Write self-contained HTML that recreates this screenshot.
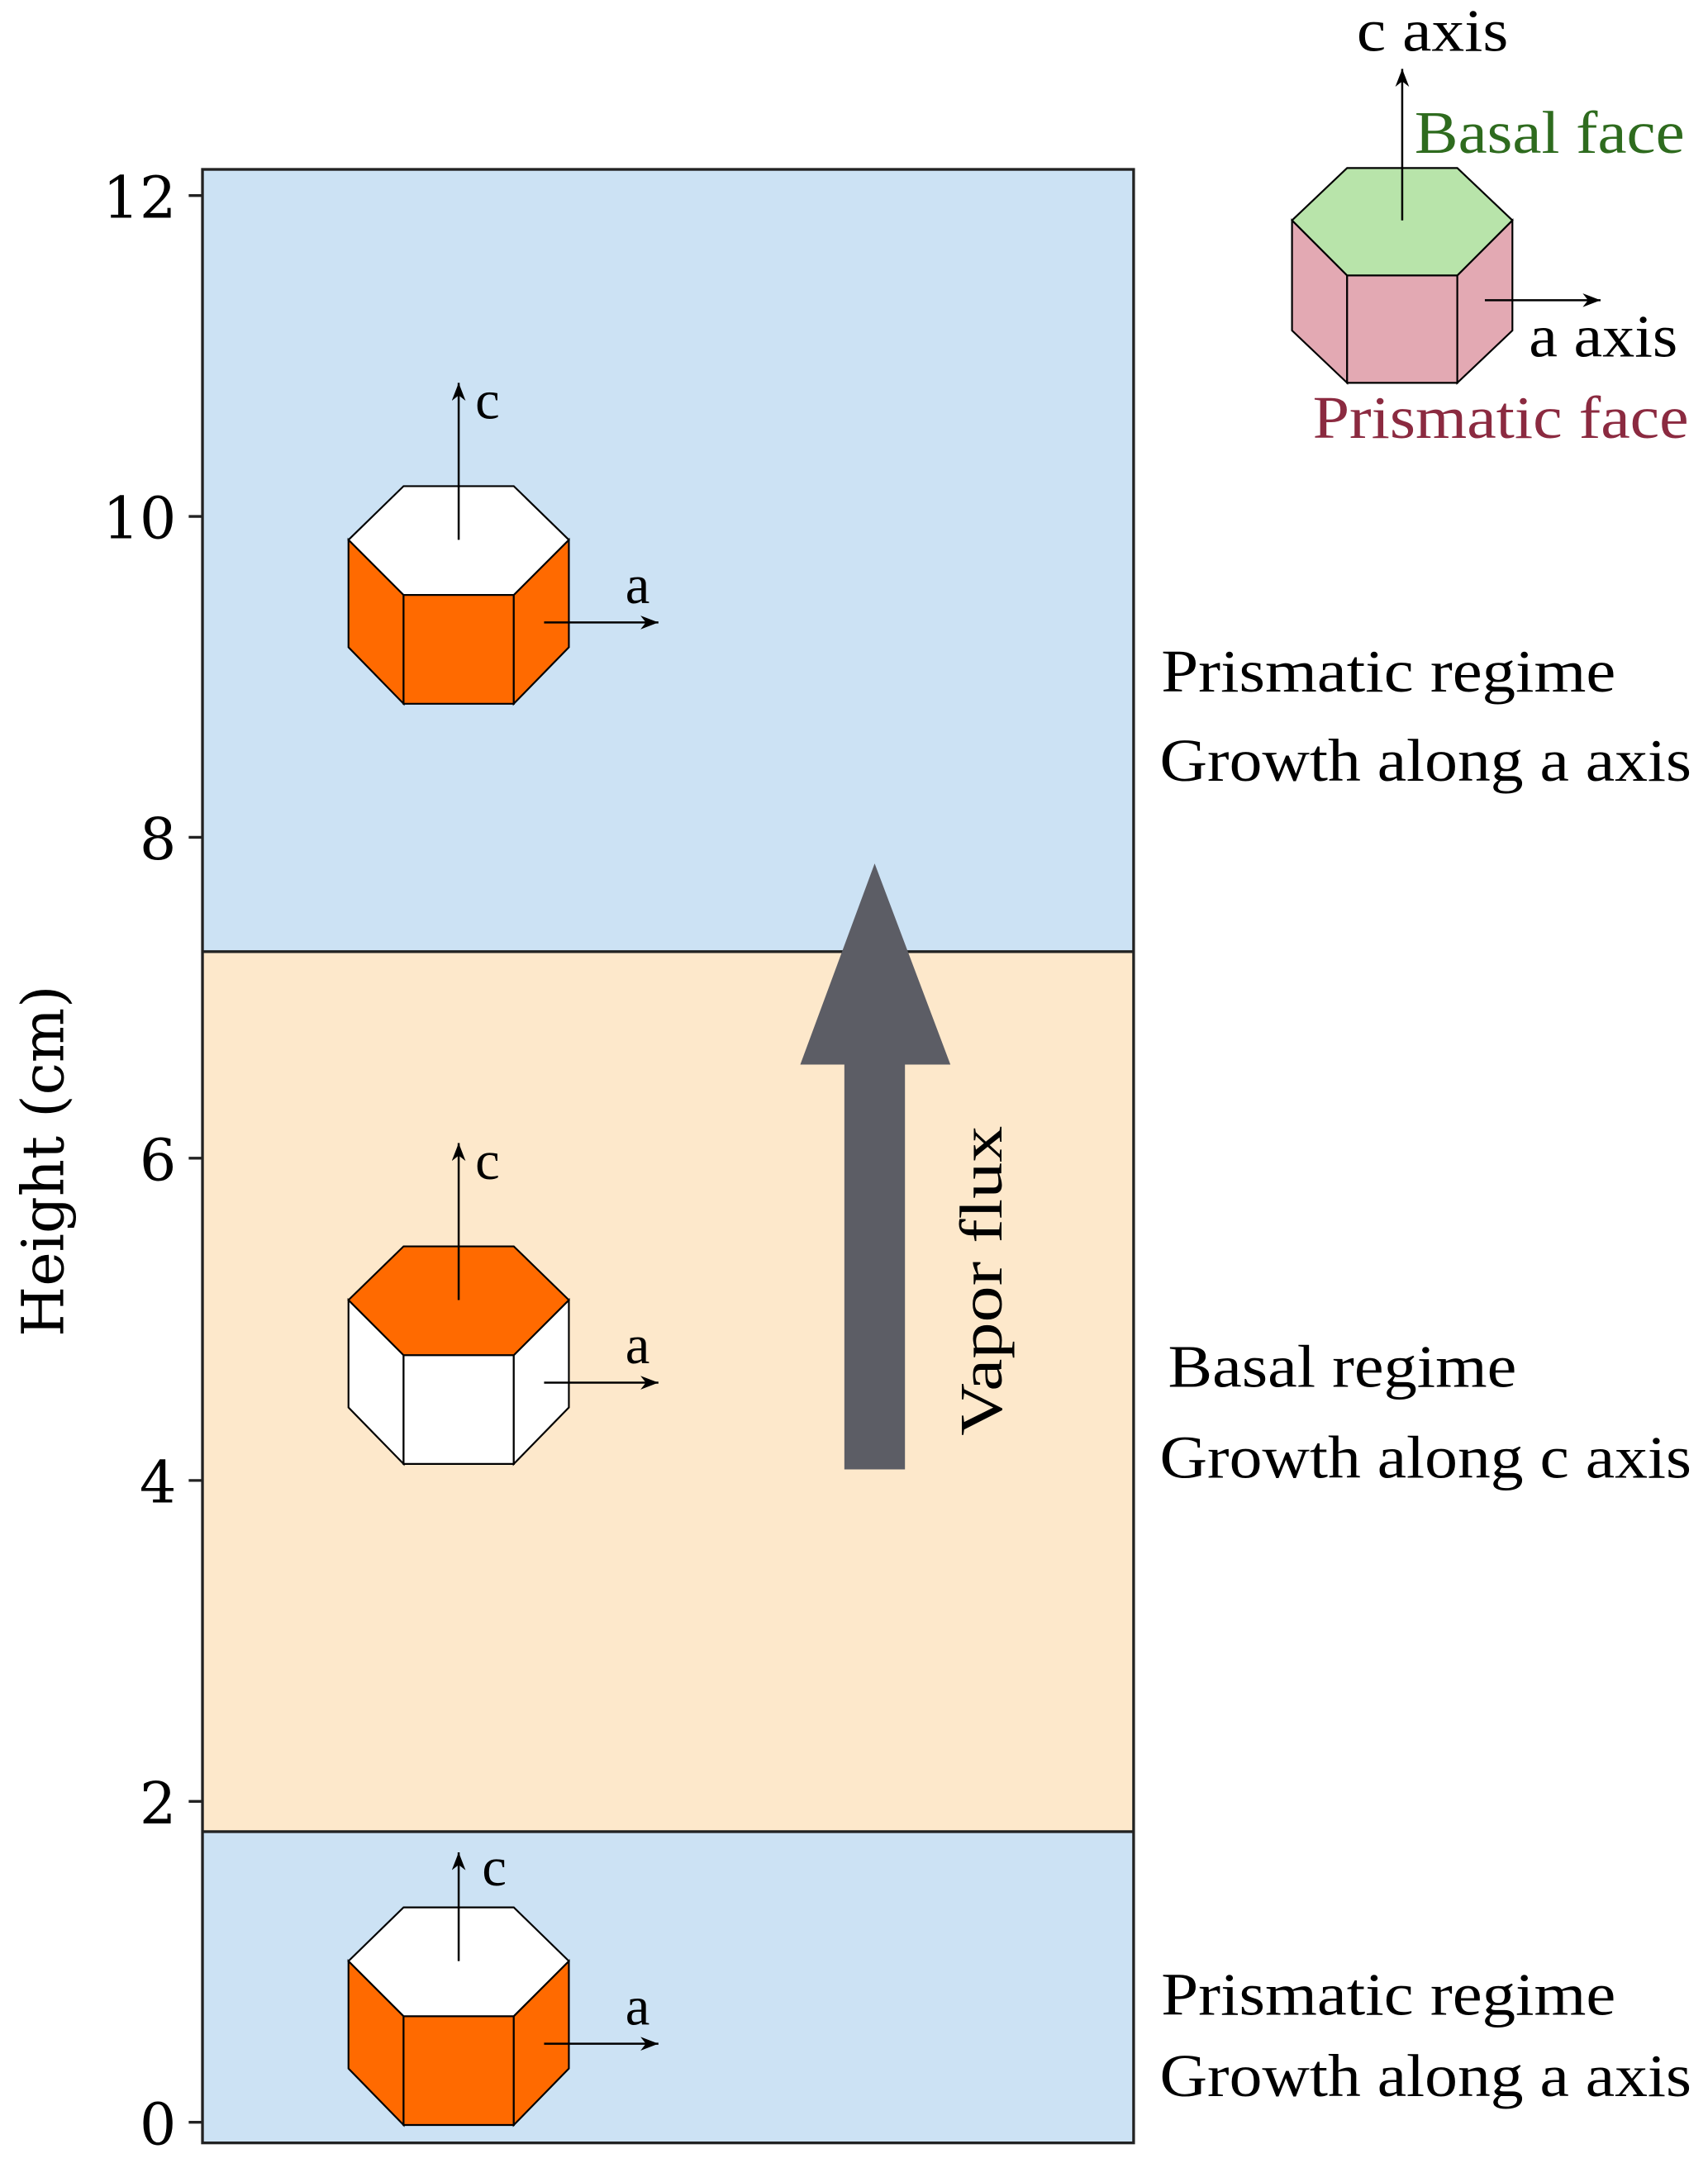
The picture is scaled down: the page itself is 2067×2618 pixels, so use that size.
<!DOCTYPE html>
<html><head><meta charset="utf-8"><style>html,body{margin:0;padding:0;background:#fff}svg{display:block}</style></head>
<body>
<svg width="2067" height="2618" viewBox="0 0 1240 1570.6" preserveAspectRatio="none" xmlns="http://www.w3.org/2000/svg">
<defs>
<marker id="ah" viewBox="0 0 10 10" refX="10" refY="5" markerWidth="13" markerHeight="10" markerUnits="userSpaceOnUse" orient="auto" preserveAspectRatio="none"><path d="M0,0 L10,5 L0,10 L3,5 z" fill="#000"/></marker>
</defs>
<rect x="147" y="123" width="676" height="568" fill="#cce2f4"/>
<rect x="147" y="691" width="676" height="639" fill="#fde8cb"/>
<rect x="147" y="1330" width="676" height="226" fill="#cce2f4"/>
<line x1="147" y1="691" x2="823" y2="691" stroke="#222" stroke-width="2"/>
<line x1="147" y1="1330" x2="823" y2="1330" stroke="#222" stroke-width="2"/>
<rect x="147" y="123" width="676" height="1433" fill="none" stroke="#222" stroke-width="2"/>
<g stroke="#222" stroke-width="2">
<line x1="137" y1="142" x2="147" y2="142"/><line x1="137" y1="375" x2="147" y2="375"/>
<line x1="137" y1="608" x2="147" y2="608"/><line x1="137" y1="841" x2="147" y2="841"/>
<line x1="137" y1="1075" x2="147" y2="1075"/><line x1="137" y1="1308" x2="147" y2="1308"/>
<line x1="137" y1="1541" x2="147" y2="1541"/>
</g>
<g font-family="DejaVu Serif, serif" font-size="42" text-anchor="end" fill="#000">
<text x="128" y="158">12</text><text x="128" y="391">10</text><text x="128" y="624">8</text>
<text x="128" y="857">6</text><text x="128" y="1091">4</text><text x="128" y="1324">2</text><text x="128" y="1557">0</text>
</g>
<text transform="translate(46,843) rotate(-90)" font-family="DejaVu Serif, serif" font-size="42" text-anchor="middle">Height (cm)</text>

<g stroke="#000" stroke-width="1.3">
<polygon points="253,392 293,432 293,511 253,470" fill="#ff6a00"/>
<polygon points="293,432 373,432 373,511 293,511" fill="#ff6a00"/>
<polygon points="373,432 413,392 413,470 373,511" fill="#ff6a00"/>
<polygon points="293,353 373,353 413,392 373,432 293,432 253,392" fill="#fff"/>
</g>
<line x1="333" y1="392" x2="333" y2="278" stroke="#000" stroke-width="1.5" marker-end="url(#ah)"/>
<line x1="395" y1="452" x2="478" y2="452" stroke="#000" stroke-width="1.5" marker-end="url(#ah)"/>
<g font-family="Liberation Serif, serif" font-size="40"><text x="345" y="304">c</text><text x="454" y="438">a</text></g>

<g transform="translate(0,552)">
<g stroke="#000" stroke-width="1.3">
<polygon points="253,392 293,432 293,511 253,470" fill="#fff"/>
<polygon points="293,432 373,432 373,511 293,511" fill="#fff"/>
<polygon points="373,432 413,392 413,470 373,511" fill="#fff"/>
<polygon points="293,353 373,353 413,392 373,432 293,432 253,392" fill="#ff6a00"/>
</g>
<line x1="333" y1="392" x2="333" y2="278" stroke="#000" stroke-width="1.5" marker-end="url(#ah)"/>
<line x1="395" y1="452" x2="478" y2="452" stroke="#000" stroke-width="1.5" marker-end="url(#ah)"/>
<g font-family="Liberation Serif, serif" font-size="40"><text x="345" y="304">c</text><text x="454" y="438">a</text></g>
</g>

<g transform="translate(0,1032)">
<g stroke="#000" stroke-width="1.3">
<polygon points="253,392 293,432 293,511 253,470" fill="#ff6a00"/>
<polygon points="293,432 373,432 373,511 293,511" fill="#ff6a00"/>
<polygon points="373,432 413,392 413,470 373,511" fill="#ff6a00"/>
<polygon points="293,353 373,353 413,392 373,432 293,432 253,392" fill="#fff"/>
</g>
<line x1="333" y1="392" x2="333" y2="313" stroke="#000" stroke-width="1.5" marker-end="url(#ah)"/>
<line x1="395" y1="452" x2="478" y2="452" stroke="#000" stroke-width="1.5" marker-end="url(#ah)"/>
<g font-family="Liberation Serif, serif" font-size="40"><text x="350" y="337">c</text><text x="454" y="438">a</text></g>
</g>

<polygon points="613,1067 657,1067 657,773 690,773 635,627 581,773 613,773" fill="#5c5d65"/>
<text transform="translate(727,930) rotate(-90)" font-family="Liberation Serif, serif" font-size="44" text-anchor="middle" textLength="225" lengthAdjust="spacingAndGlyphs">Vapor flux</text>

<g font-family="Liberation Serif, serif" font-size="44" fill="#000">
<text x="843" y="502" textLength="330" lengthAdjust="spacingAndGlyphs">Prismatic regime</text>
<text x="842" y="567" textLength="386" lengthAdjust="spacingAndGlyphs">Growth along a axis</text>
<text x="848" y="1007" textLength="253" lengthAdjust="spacingAndGlyphs">Basal regime</text>
<text x="842" y="1073" textLength="386" lengthAdjust="spacingAndGlyphs">Growth along c axis</text>
<text x="843" y="1463" textLength="330" lengthAdjust="spacingAndGlyphs">Prismatic regime</text>
<text x="842" y="1522" textLength="386" lengthAdjust="spacingAndGlyphs">Growth along a axis</text>
</g>

<g stroke="#000" stroke-width="1.3">
<polygon points="938,160 978,200 978,278 938,240" fill="#e3a9b3"/>
<polygon points="978,200 1058,200 1058,278 978,278" fill="#e3a9b3"/>
<polygon points="1058,200 1098,160 1098,240 1058,278" fill="#e3a9b3"/>
<polygon points="978,122 1058,122 1098,160 1058,200 978,200 938,160" fill="#b8e4aa"/>
</g>
<line x1="1018" y1="160" x2="1018" y2="50" stroke="#000" stroke-width="1.5" marker-end="url(#ah)"/>
<line x1="1078" y1="218" x2="1162" y2="218" stroke="#000" stroke-width="1.5" marker-end="url(#ah)"/>
<g font-family="Liberation Serif, serif" font-size="44">
<text x="985" y="37" textLength="110" lengthAdjust="spacingAndGlyphs">c axis</text>
<text x="1027" y="111" fill="#2e6b1e" textLength="196" lengthAdjust="spacingAndGlyphs">Basal face</text>
<text x="1110" y="259" textLength="108" lengthAdjust="spacingAndGlyphs">a axis</text>
<text x="953" y="318" fill="#8b2a40" textLength="273" lengthAdjust="spacingAndGlyphs">Prismatic face</text>
</g>
</svg>
</body></html>
